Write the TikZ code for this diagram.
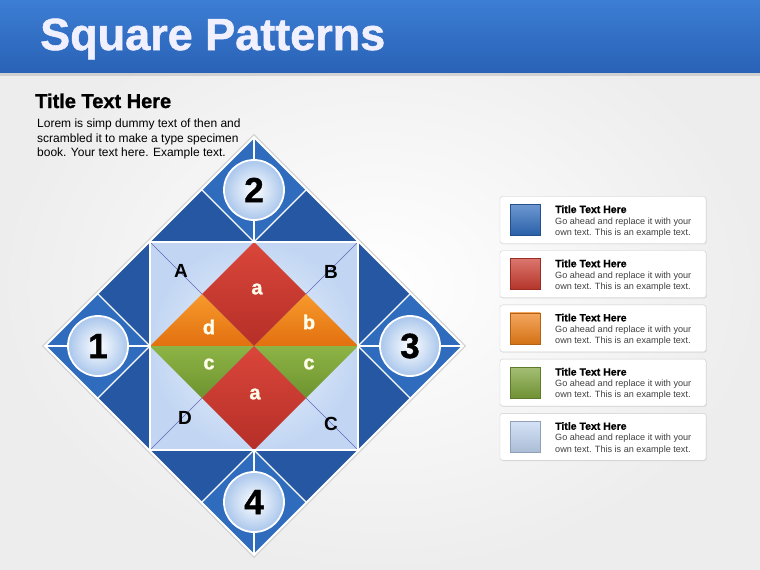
\documentclass[tikz,border=0pt]{standalone}
\usepackage{fontspec}
\setmainfont{Liberation Sans}
\newfontfamily\heavyfont[FakeBold=1.2]{Liberation Sans Bold}
\usetikzlibrary{positioning,shadows}
\definecolor{hdrtop}{HTML}{3C7ED4}
\definecolor{hdrbot}{HTML}{2962B6}
\definecolor{tileblue}{HTML}{2F6CBE}
\definecolor{tiledark}{HTML}{2657A3}
\definecolor{paleblue}{HTML}{EEF4FC}
\definecolor{palebluedk}{HTML}{C2D6F3}
\definecolor{redtop}{HTML}{DA463A}
\definecolor{redbot}{HTML}{B52F28}
\definecolor{orangetop}{HTML}{F79A2C}
\definecolor{orangebot}{HTML}{E2700F}
\definecolor{greentop}{HTML}{8DB445}
\definecolor{greenbot}{HTML}{6E9330}
\definecolor{tilered}{HTML}{CC3B2F}
\definecolor{tileorange}{HTML}{F08119}
\definecolor{tilegreen}{HTML}{7EA43A}
\definecolor{ballrim}{HTML}{A9C6EC}
\begin{document}
\begin{tikzpicture}[x=1pt,y=-1pt,
		seam/.style={white, line width=1.3pt},
		ball/.style={circle, minimum size=60pt, draw=white, line width=1.8pt,
			inner color=white, outer color=ballrim,
			drop shadow={opacity=0.25, shadow xshift=0.6pt, shadow yshift=-0.8pt},
			font=\heavyfont\fontsize{35}{35}\selectfont\color{black}},
		cornerlabel/.style={text=black, font=\bfseries\fontsize{19}{19}\selectfont},
		piece/.style={font=\heavyfont\fontsize{20}{20}\selectfont\color{white!92!yellow}},
		legbox/.style={draw=gray!40, fill=white, rounded corners=2.5pt,
			minimum width=206pt, minimum height=47pt,
			drop shadow={opacity=0.15, shadow xshift=0.8pt, shadow yshift=-0.8pt}},
		swatch/.style={minimum width=30pt, minimum height=31pt, inner sep=0pt, line width=0.5pt},
		legtitle/.style={inner sep=0pt, font=\heavyfont\fontsize{10.5}{10.5}\selectfont\color{black}},
		legtext/.style={inner sep=0pt, align=left, text=black!75, font=\fontsize{9.1}{11}\selectfont}]
		\useasboundingbox (0,0) rectangle (760,570);
		%background and header
		\shade[inner color=white, outer color=gray!14] (0,0) rectangle (760,570);
		\fill[black, opacity=0.12] (0,72) rectangle (760,76);
		\shade[top color=hdrtop, bottom color=hdrbot] (0,0) rectangle (760,72);
		\node[anchor=base west, inner sep=0pt, font=\heavyfont\fontsize{45}{45}\selectfont\color{white!94!blue}] (title) at (40,50) {Square Patterns};
		\node[anchor=base west, inner sep=0pt, font=\heavyfont\fontsize{20}{20}\selectfont\color{black}] (heading) at (35,108) {Title Text Here};
		\node[anchor=north west, inner sep=0pt, align=left, font=\fontsize{12}{14.5}\selectfont] (intro) at (37,119)
			{Lorem is simp dummy text of then and\\scrambled it to make a type specimen\\book. Your text here. Example text.};
		%outer diamond
		\coordinate (O) at (254,346);
		\draw[gray!35, line width=4.5pt] (254,137) -- (463,346) -- (254,555) -- (45,346) -- cycle;
		\fill[tileblue] (254,137) -- (463,346) -- (254,555) -- (45,346) -- cycle;
		\foreach \r in {0, 90, 180, 270}{
			\begin{scope}[shift={(O)}, rotate=\r]
				\fill[tiledark] (-104,-104) -- (-52,-156) -- (0,-104) -- cycle;
				\fill[tiledark] (0,-104) -- (52,-156) -- (104,-104) -- cycle;
				\draw[seam] (0,-209) -- (0,-104);
				\draw[seam] (-52,-156) -- (0,-104) -- (52,-156);
			\end{scope}
		}
		%inner square
		\shade[inner color=paleblue, outer color=palebluedk] (150,242) rectangle (358,450);
		\draw[black!45!blue!60, line width=0.5pt] (150,242) -- (358,450);
		\draw[black!45!blue!60, line width=0.5pt] (358,242) -- (150,450);
		\shade[top color=redtop, bottom color=redbot] (254,242) -- (306,294) -- (254,346) -- (202,294) -- cycle;
		\shade[top color=orangetop, bottom color=orangebot] (150,346) -- (202,294) -- (254,346) -- cycle;
		\shade[top color=orangetop, bottom color=orangebot] (254,346) -- (306,294) -- (358,346) -- cycle;
		\shade[top color=greentop, bottom color=greenbot] (150,346) -- (254,346) -- (202,398) -- cycle;
		\shade[top color=greentop, bottom color=greenbot] (254,346) -- (358,346) -- (306,398) -- cycle;
		\shade[top color=redtop, bottom color=redbot] (254,346) -- (306,398) -- (254,450) -- (202,398) -- cycle;
		\draw[seam] (150,242) rectangle (358,450);
		\draw[white, line width=1.8pt] (254,137) -- (463,346) -- (254,555) -- (45,346) -- cycle;
		%numbered balls
		\node[ball] (one) at (98,346) {1};
		\node[ball] (two) at (254,190) {2};
		\node[ball] (three) at (410,346) {3};
		\node[ball] (four) at (254,502) {4};
		%letters
		\node[cornerlabel] (A) at (181,271) {A};
		\node[cornerlabel] (B) at (331,272) {B};
		\node[cornerlabel] (C) at (331,424) {C};
		\node[cornerlabel] (D) at (185,418) {D};
		\node[piece] (aup) at (257,289) {a};
		\node[piece] (d) at (209,327) {d};
		\node[piece] (b) at (309,322) {b};
		\node[piece] (cl) at (209,364) {c};
		\node[piece] (cr) at (309,364) {c};
		\node[piece] (adown) at (255,394) {a};
		%legend
		\foreach \i/\col in {0/tileblue, 1/tilered, 2/tileorange, 3/tilegreen, 4/palebluedk}{
			\pgfmathsetmacro\yy{220+54.2*\i}
			\node[legbox] (box\i) at (603,\yy) {};
			\node[swatch, top color=\col!70!white, bottom color=\col!88!black, draw=\col!75!black] (sw\i) at (525,\yy) {};
			\node[legtitle, anchor=base west] (lt\i) at (555,\yy-7) {Title Text Here};
			\node[legtext, anchor=north west] (ld\i) at ([yshift=-4.4pt]lt\i.base west)
				{Go ahead and replace it with your\\own text. This is an example text.};
		}
	\end{tikzpicture}
\end{document}
